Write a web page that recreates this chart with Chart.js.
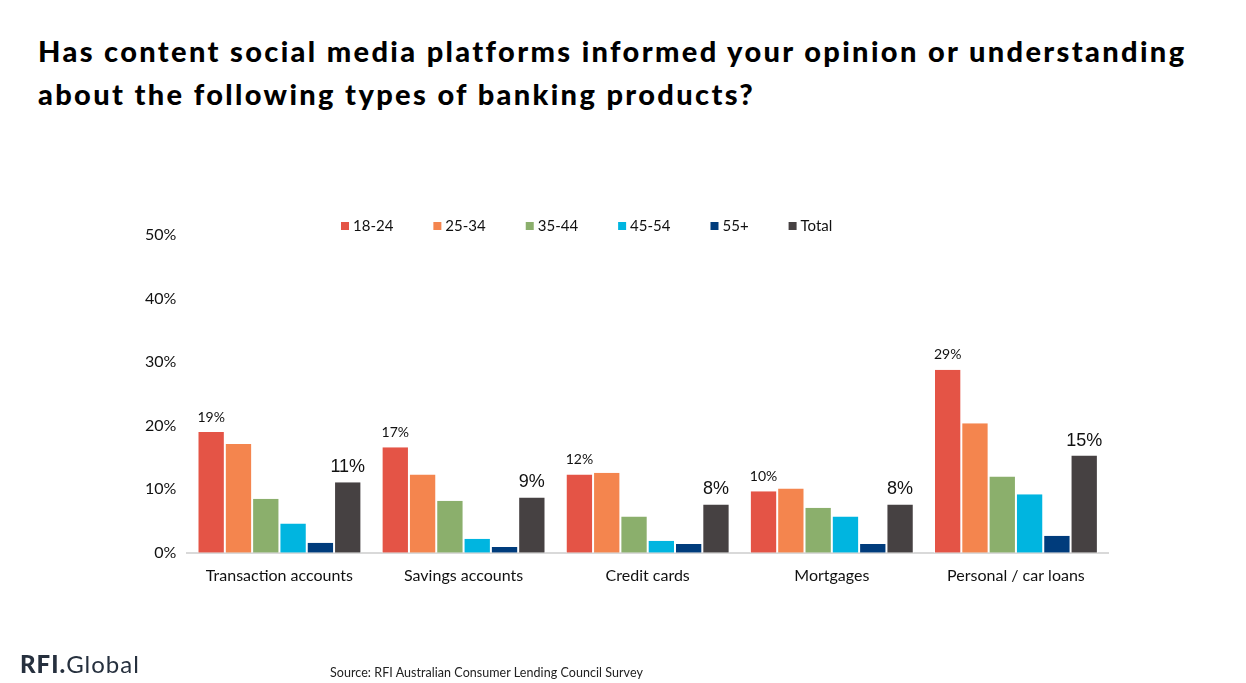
<!DOCTYPE html>
<html>
<head>
<meta charset="utf-8">
<script src="https://cdn.jsdelivr.net/npm/chart.js@4/dist/chart.umd.min.js"></script>
<style>
  html, body { margin: 0; padding: 0; background: #fff; }
  body { width: 1246px; height: 683px; position: relative; overflow: hidden; font-family: 'Lato', sans-serif; }
  #title { position: absolute; left: 38px; top: 29px; font-size: 29px; font-weight: 900; line-height: 43px; color: #000; letter-spacing: 2.35px; white-space: nowrap; }
  #wrap { position: absolute; left: 0; top: 0; width: 1246px; height: 683px; }
  #logo { position: absolute; left: 20px; top: 651px; font-size: 24px; line-height: 26px; color: #26303e; letter-spacing: 1px; }
  #logo b { font-weight: 900; }
  #source { position: absolute; left: 330px; top: 665px; font-size: 12.5px; color: #222; letter-spacing: 0.05px; }
</style>
</head>
<body>
<div id="title">Has content social media platforms informed your opinion or understanding<br>about the following types of banking products?</div>
<div id="wrap"><canvas id="chart"></canvas></div>
<div id="logo"><b>RFI.</b>Global</div>
<div id="source">Source: RFI Australian Consumer Lending Council Survey</div>
<script>
  var categories = ['Transaction accounts', 'Savings accounts', 'Credit cards', 'Mortgages', 'Personal / car loans'];
  var seriesNames = ['18-24', '25-34', '35-44', '45-54', '55+', 'Total'];
  var colors = ['#e45446', '#f4854e', '#8baf6c', '#00b5e0', '#003c7c', '#464142'];

  var age1824 = [19.0, 16.6, 12.3, 9.7, 28.8];
  var age2534 = [17.1, 12.3, 12.6, 10.1, 20.4];
  var age3544 = [8.5, 8.2, 5.7, 7.1, 12.0];
  var age4554 = [4.6, 2.2, 1.9, 5.7, 9.2];
  var age55 = [1.6, 0.9, 1.4, 1.4, 2.7];
  var total = [11.1, 8.7, 7.6, 7.6, 15.3];
  var yTicks = [0, 10, 20, 30, 40, 50];

  var allSeries = [age1824, age2534, age3544, age4554, age55, total];

  // labels only on 18-24 and Total, as in the source
  var labelPlugin = {
    id: 'barLabels',
    afterDatasetsDraw: function(chart) {
      var ctx = chart.ctx;
      ctx.save();
      ctx.textAlign = 'center';
      ctx.textBaseline = 'bottom';
      [0, 5].forEach(function(di) {
        var meta = chart.getDatasetMeta(di);
        ctx.fillStyle = '#111';
        ctx.font = di === 0 ? '14px Lato' : '18px "Liberation Sans"';
        meta.data.forEach(function(bar, i) {
          var v = chart.data.datasets[di].data[i];
          ctx.fillText(Math.round(v) + '%', bar.x, bar.y - (di === 0 ? 8 : 6));
        });
      });
      ctx.restore();
    }
  };

  // legend sits inside the top of the plot, so draw it by hand
  var legendPlugin = {
    id: 'topLegend',
    afterDraw: function(chart) {
      var ctx = chart.ctx;
      var x = 341, y = 226;
      ctx.save();
      ctx.font = '15px Lato';
      ctx.textBaseline = 'middle';
      chart.data.datasets.forEach(function(ds) {
        ctx.fillStyle = ds.backgroundColor;
        ctx.fillRect(x, y - 4, 8, 8);
        ctx.fillStyle = '#111';
        ctx.fillText(ds.label, x + 12, y);
        x += 12 + ctx.measureText(ds.label).width + 40;
      });
      ctx.restore();
    }
  };

  new Chart(document.getElementById('chart'), {
    type: 'bar',
    data: {
      labels: categories,
      datasets: allSeries.map(function(d, i) {
        return {
          label: seriesNames[i],
          data: d,
          backgroundColor: colors[i],
          borderColor: '#ffffff',
          borderWidth: { left: 1, right: 1, top: 0, bottom: 0 },
          borderSkipped: false,
          barPercentage: 1,
          categoryPercentage: 0.89
        };
      })
    },
    plugins: [labelPlugin, legendPlugin],
    options: {
      responsive: true,
      maintainAspectRatio: false,
      animation: false,
      layout: { padding: { left: 142, right: 138, top: 235, bottom: 85 } },
      plugins: {
        legend: { display: false },
        tooltip: { enabled: false }
      },
      scales: {
        x: {
          grid: { display: false, drawTicks: false },
          border: { color: '#d9d9d9', width: 2 },
          ticks: { color: '#111', font: { family: 'Lato', size: 16 }, padding: 13 }
        },
        y: {
          min: 0,
          max: 50,
          afterBuildTicks: function(axis) {
            axis.ticks = yTicks.map(function(v) { return { value: v }; });
          },
          grid: { display: false },
          border: { display: false },
          ticks: {
            color: '#111',
            font: { family: 'Lato', size: 16 },
            padding: 3,
            callback: function(v) { return v + '%'; }
          }
        }
      }
    }
  });
</script>
</body>
</html>
